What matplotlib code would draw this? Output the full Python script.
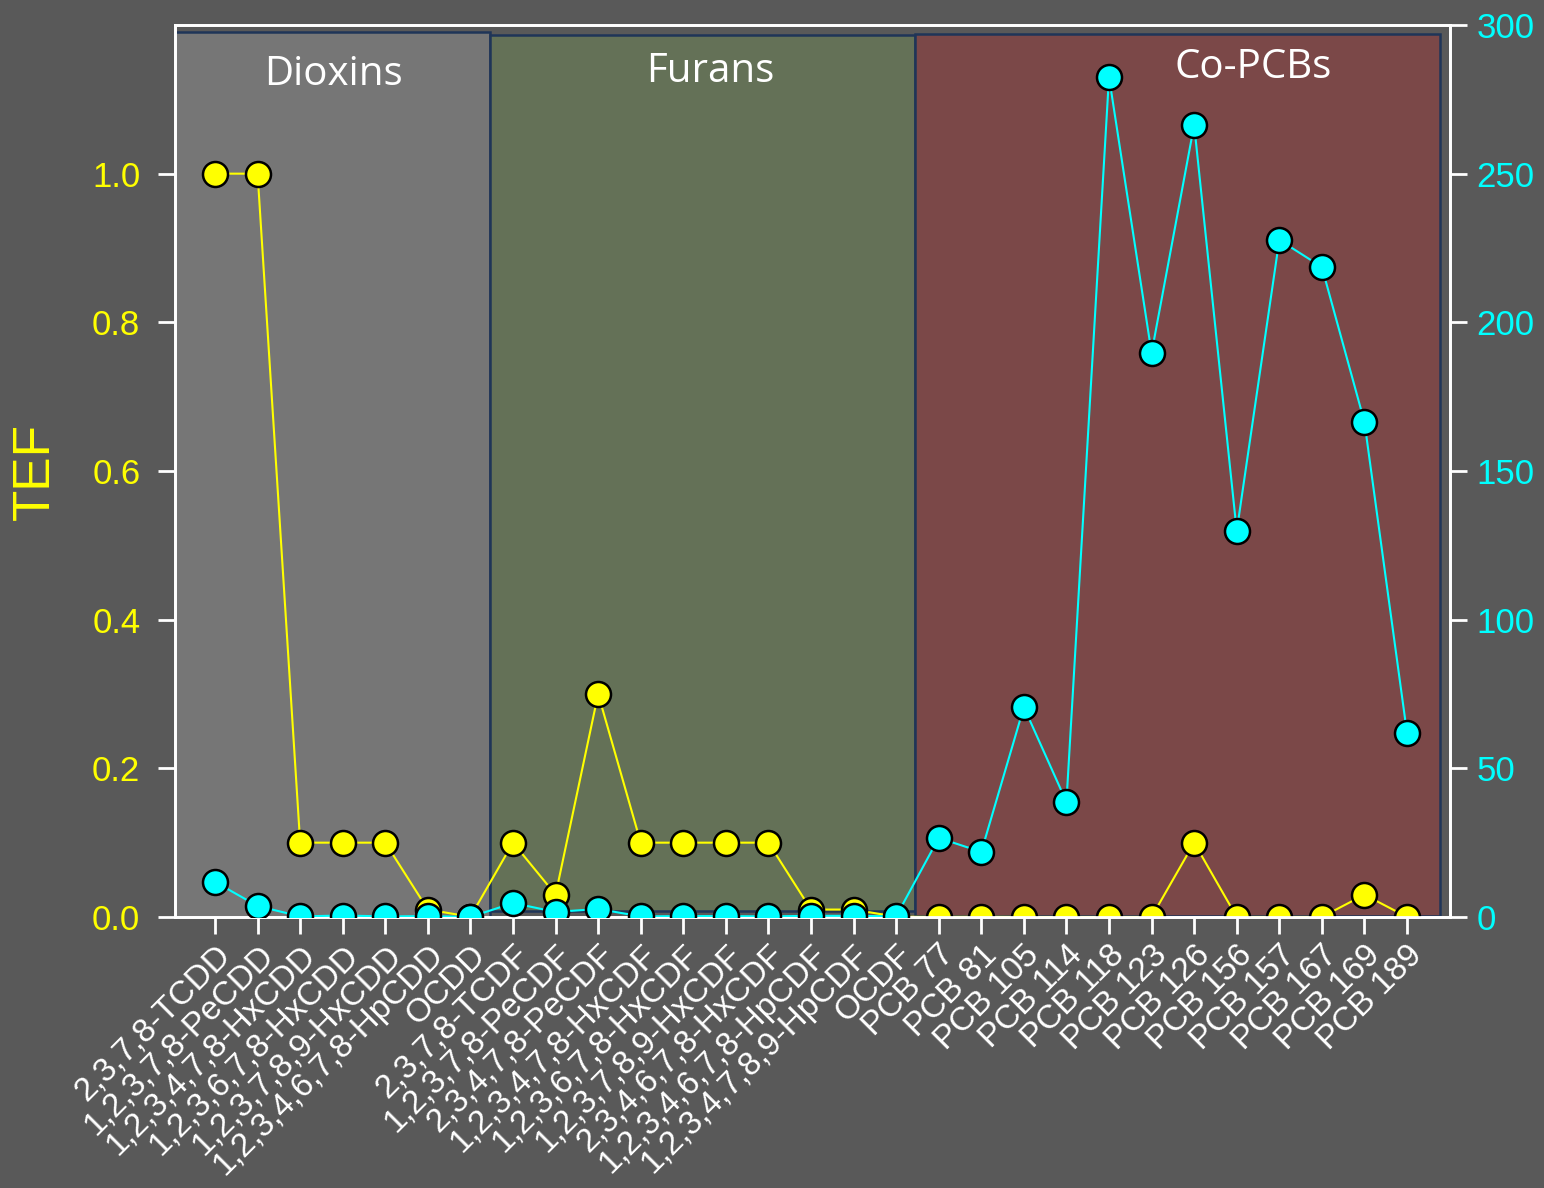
import matplotlib.pyplot as plt
import matplotlib.patches as mpatches

# congeners, WHO TEF and the second series (right axis)
CONGENERS = [
    "2,3,7,8-TCDD", "1,2,3,7,8-PeCDD", "1,2,3,4,7,8-HxCDD", "1,2,3,6,7,8-HxCDD",
    "1,2,3,7,8,9-HxCDD", "1,2,3,4,6,7,8-HpCDD", "OCDD",
    "2,3,7,8-TCDF", "1,2,3,7,8-PeCDF", "2,3,4,7,8-PeCDF", "1,2,3,4,7,8-HxCDF",
    "1,2,3,6,7,8-HxCDF", "1,2,3,7,8,9-HxCDF", "2,3,4,6,7,8-HxCDF",
    "1,2,3,4,6,7,8-HpCDF", "1,2,3,4,7,8,9-HpCDF", "OCDF",
    "PCB 77", "PCB 81", "PCB 105", "PCB 114", "PCB 118", "PCB 123", "PCB 126",
    "PCB 156", "PCB 157", "PCB 167", "PCB 169", "PCB 189",
]
TEF = [1.0, 1.0, 0.1, 0.1, 0.1, 0.01, 0.0003,
       0.1, 0.03, 0.3, 0.1, 0.1, 0.1, 0.1, 0.01, 0.01, 0.0003,
       0.0001, 0.0003, 0.00003, 0.00003, 0.00003, 0.00003, 0.1,
       0.00003, 0.00003, 0.00003, 0.03, 0.00003]
RIGHT_VALUES = [11.8, 3.7, 0.2, 0.5, 0.2, 0.3, 0.0,
                4.7, 1.7, 2.7, 0.2, 0.3, 0.3, 0.2, 0.4, 0.4, 0.2,
                26.6, 21.9, 70.6, 38.7, 282.5, 189.7, 266.4,
                129.8, 227.7, 218.6, 166.5, 61.9]

GROUP_NAMES = ["Dioxins", "Furans", "Co-PCBs"]
GROUP_COLORS = ["#767676", "#647157", "#7B4848"]

BG = "#595959"
YELLOW = "#FFFF00"
CYAN = "#00FFFF"

plt.rcParams['font.family'] = ['Liberation Sans', 'DejaVu Sans']

fig = plt.figure(figsize=(15.44, 11.88), dpi=100, facecolor=BG)
ax = fig.add_axes([175 / 1544, 1 - 917 / 1188, (1450 - 175) / 1544, (917 - 25) / 1188])
ax.set_facecolor(BG)
ax2 = ax.twinx()

x = list(range(len(CONGENERS)))
ax.set_xlim(-0.94, 29.01)
ax.set_ylim(0, 1.2)
ax2.set_ylim(0, 300)

# group boxes (layout)
box_edges = [-0.94, 6.46, 16.44, 28.78]
box_tops = [1.19, 1.187, 1.188]
box_bottoms = [0.0, 0.008, 0.002]
label_x = [2.77, 11.63, 24.38]
label_y = [1.133, 1.137, 1.143]
for i, name in enumerate(GROUP_NAMES):
    left, right = box_edges[i], box_edges[i + 1]
    rect = mpatches.Rectangle((left, box_bottoms[i]), right - left, box_tops[i] - box_bottoms[i],
                              facecolor=GROUP_COLORS[i], edgecolor="#1F3558", linewidth=1.8,
                              zorder=0)
    ax.add_patch(rect)
    ax.text(label_x[i], label_y[i], name, ha="center", va="center",
            color="white", fontsize=29, family=["Open Sans", "DejaVu Sans"], zorder=1)

ax.plot(x, TEF, "-o", color=YELLOW, linewidth=1.5, markersize=18,
        markerfacecolor=YELLOW, markeredgecolor="black", markeredgewidth=1.8, zorder=3)
ax2.plot(x, RIGHT_VALUES, "-o", color=CYAN, linewidth=1.5, markersize=18,
         markerfacecolor=CYAN, markeredgecolor="black", markeredgewidth=1.8, zorder=3)

ax.set_xticks(x)
ax.set_xticklabels(CONGENERS, rotation=45, ha="right", rotation_mode="anchor",
                   color="white", fontsize=24)
ax.set_yticks([0, 0.2, 0.4, 0.6, 0.8, 1.0])
ax.set_yticklabels(["0.0", "0.2", "0.4", "0.6", "0.8", "1.0"])
ax.tick_params(axis="y", colors="white", labelcolor=YELLOW, labelsize=25,
               length=12, width=2, direction="out", pad=13)
ax.tick_params(axis="x", colors="white", length=12, width=2, direction="out", pad=4)
ax2.set_yticks([0, 50, 100, 150, 200, 250, 300])
ax2.tick_params(axis="y", colors="white", labelcolor=CYAN, labelsize=25,
                length=12, width=2, direction="out", pad=7)

for a in (ax, ax2):
    for s in a.spines.values():
        s.set_color("white")
        s.set_linewidth(2)

fig.text(35 / 1544, 1 - 472 / 1188, "TEF", color=YELLOW, fontsize=37,
         rotation=90, ha="center", va="center")

fig.savefig("out.png", dpi=100, facecolor=BG)
